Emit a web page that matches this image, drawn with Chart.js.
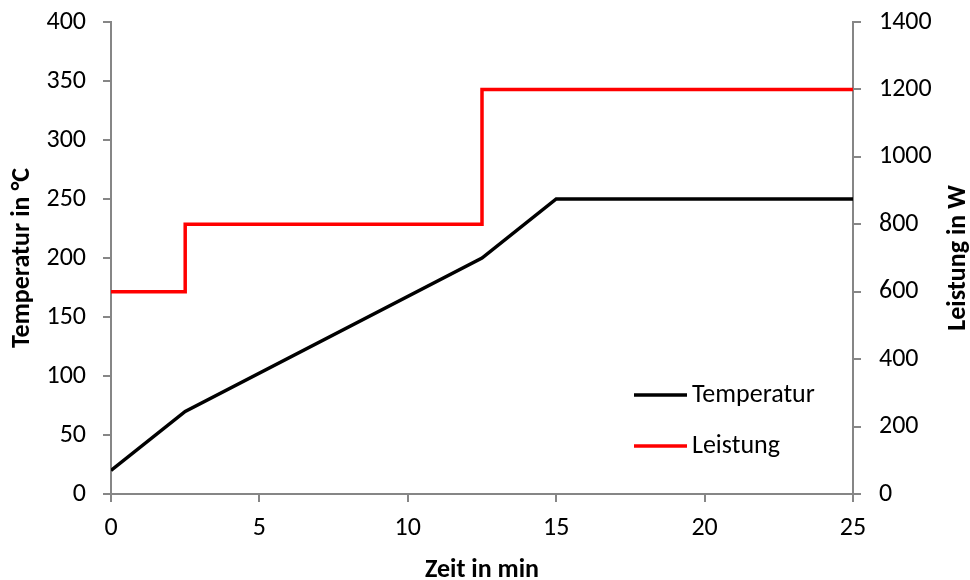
<!DOCTYPE html>
<html>
<head>
<meta charset="utf-8">
<script src="https://cdn.jsdelivr.net/npm/chart.js@4.4.1/dist/chart.umd.min.js"></script>
<style>
html,body{margin:0;padding:0;background:#fff;}
#wrap{width:970px;height:580px;}
</style>
</head>
<body>
<div id="wrap"><canvas id="c" width="970" height="580"></canvas></div>
<script>
const FONT = "Carlito, Lato, 'Liberation Sans', sans-serif";
const timeTemp = [0, 2.5, 12.5, 15, 25];
const temperature = [20, 70, 200, 250, 250];
const timePower = [0, 2.5, 12.5, 25];
const power = [600, 800, 1200, 1200];
const seriesNames = ['Temperatur', 'Leistung'];
const xTitle = 'Zeit in min';
const yLeftTitle = 'Temperatur in °C';
const yRightTitle = 'Leistung in W';

const AXIS = '#868686';
const FS = 26;

const legendPlugin = {
  id: 'customLegend',
  afterDatasetsDraw(chart) {
    const ctx = chart.ctx;
    ctx.save();
    const rows = [
      {ds: chart.data.datasets[0], y: 395},
      {ds: chart.data.datasets[1], y: 446}
    ];
    rows.forEach(r => {
      ctx.strokeStyle = r.ds.borderColor;
      ctx.lineWidth = 3.5;
      ctx.beginPath();
      ctx.moveTo(634, r.y);
      ctx.lineTo(687, r.y);
      ctx.stroke();
      ctx.fillStyle = '#000';
      ctx.font = FS + 'px ' + FONT;
      ctx.textBaseline = 'middle';
      ctx.textAlign = 'left';
      ctx.fillText(r.ds.label, 692, r.y);
    });
    ctx.translate(958, (chart.chartArea.top + chart.chartArea.bottom) / 2);
    ctx.rotate(-Math.PI / 2);
    ctx.font = 'bold ' + FS + 'px ' + FONT;
    ctx.textAlign = 'center';
    ctx.textBaseline = 'middle';
    ctx.fillText(yRightTitle, 0, 0);
    ctx.restore();
  }
};

const plain = v => String(v);

new Chart(document.getElementById('c'), {
  type: 'line',
  data: {
    datasets: [
      {
        label: seriesNames[0],
        data: timeTemp.map((t, i) => ({x: t, y: temperature[i]})),
        borderColor: '#000000',
        borderWidth: 3.5,
        pointRadius: 0,
        tension: 0,
        yAxisID: 'yL'
      },
      {
        label: seriesNames[1],
        data: timePower.map((t, i) => ({x: t, y: power[i]})),
        borderColor: '#FF0000',
        borderWidth: 3.5,
        pointRadius: 0,
        stepped: true,
        yAxisID: 'yR'
      }
    ]
  },
  options: {
    responsive: false,
    animation: false,
    events: [],
    layout: {padding: {top: 22, left: 0, right: 0, bottom: 0}},
    plugins: {legend: {display: false}, tooltip: {enabled: false}},
    scales: {
      x: {
        type: 'linear',
        min: 0, max: 25,
        ticks: {stepSize: 5, color: '#000', font: {family: FONT, size: FS}, padding: 11, maxRotation: 0, callback: plain},
        grid: {drawOnChartArea: false, drawTicks: true, tickLength: 8, color: AXIS, lineWidth: 2},
        border: {display: true, color: AXIS, width: 2},
        title: {display: true, text: xTitle, color: '#000', font: {family: FONT, size: FS, weight: 'bold', lineHeight: 0.72}, padding: 0},
        afterFit(s) { s.height = 86; s.paddingLeft = 0; s.paddingRight = 0; }
      },
      yL: {
        type: 'linear',
        position: 'left',
        min: 0, max: 400,
        ticks: {stepSize: 50, color: '#000', font: {family: FONT, size: FS}, padding: 17, callback: plain},
        grid: {drawOnChartArea: false, drawTicks: true, tickLength: 8, color: AXIS, lineWidth: 2},
        border: {display: true, color: AXIS, width: 2},
        title: {display: true, text: yLeftTitle, color: '#000', font: {family: FONT, size: FS, weight: 'bold'}, padding: {top: 7, bottom: 0}},
        afterFit(s) { s.width = 111; s.paddingTop = 0; s.paddingBottom = 0; }
      },
      yR: {
        type: 'linear',
        position: 'right',
        min: 0, max: 1400,
        ticks: {stepSize: 200, color: '#000', font: {family: FONT, size: FS}, padding: 18, callback: plain},
        grid: {drawOnChartArea: false, drawTicks: true, tickLength: 8, color: AXIS, lineWidth: 2},
        border: {display: true, color: AXIS, width: 2},
        afterFit(s) { s.width = 117; s.paddingTop = 0; s.paddingBottom = 0; }
      }
    }
  },
  plugins: [legendPlugin]
});
</script>
</body>
</html>
